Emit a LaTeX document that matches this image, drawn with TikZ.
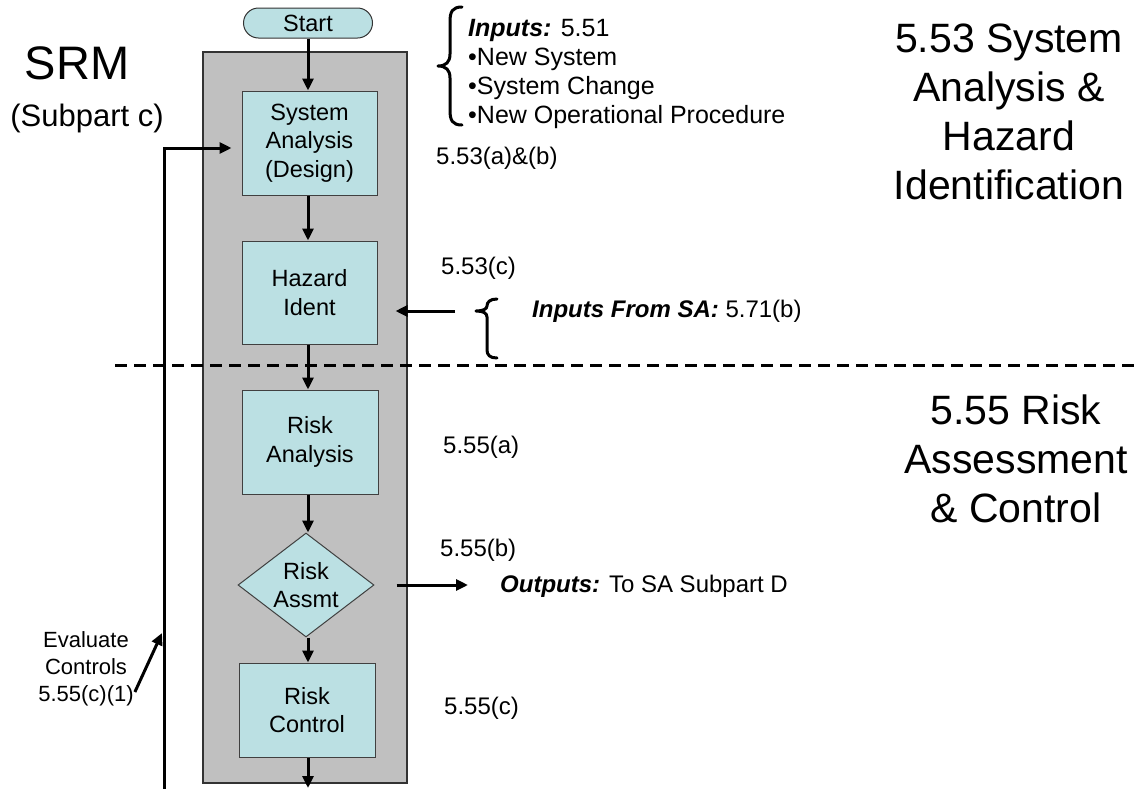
\documentclass[tikz,border=0pt]{standalone}
\usepackage{fontspec}
\setmainfont{Liberation Sans}
\usetikzlibrary{arrows.meta,shapes.geometric,calc}
\definecolor{boxfill}{RGB}{187,224,227}
\definecolor{panelgray}{RGB}{192,192,192}
\begin{document}
\begin{tikzpicture}[x=1pt,y=-1pt,
  arr/.style={line width=3pt,-{Triangle[length=12pt,width=11pt]}},
  procbox/.style={draw=black!75,line width=1pt,fill=boxfill,minimum width=135pt,minimum height=104pt,align=center,inner sep=0pt,font=\fontsize{23.5}{28.5}\selectfont},
  lbl/.style={font=\fontsize{24}{29}\selectfont,inner sep=0pt},
  bigtitle/.style={font=\fontsize{41}{49}\selectfont,inner sep=0pt,align=center},
  bracestyle/.style={line width=3pt,line cap=round,line join=round}]
\useasboundingbox (0,0) rectangle (1136,788);
\fill[white] (0,0) rectangle (1136,788);
% panel
\node[draw=black!80,line width=1.2pt,fill=panelgray,minimum width=204pt,minimum height=731pt,inner sep=0pt] (panel) at (305,417.5) {};
% start
\node[draw=black!80,line width=1pt,fill=boxfill,rounded corners=15pt,minimum width=129pt,minimum height=30pt,inner sep=0pt,font=\fontsize{23.5}{28}\selectfont] (start) at (308,23) {Start};
% process boxes
\node[procbox] (sa) at (309.5,143) {System\\Analysis\\(Design)};
\node[procbox,minimum height=103pt] (hi) at (309.5,292.5) {Hazard\\Ident};
\node[procbox,minimum width=136pt] (ra) at (310,442) {Risk\\Analysis};
\node[draw=black!75,line width=1pt,fill=boxfill,shape=diamond,aspect=1.3,minimum width=136pt,minimum height=104pt,inner sep=0pt,align=center,font=\fontsize{23.5}{28}\selectfont] (dia) at (306,585) {Risk\\Assmt};
\node[procbox,minimum width=136pt,minimum height=94pt] (rc) at (307,710) {Risk\\Control};
% dashed separator
\coordinate (dl) at (115,365);
\coordinate (dr) at (1136,365);
\draw[line width=3pt,dash pattern=on 12pt off 7pt] (dl) -- (dr);
% flow arrows
\draw[arr] (start.south) -- (start.south |- sa.north);
\draw[arr] (sa.south -| start.south) -- (start.south |- hi.north);
\draw[arr] (hi.south -| start.south) -- (start.south |- ra.north);
\draw[arr] (ra.south -| start.south) -- (start.south |- dia.north);
\draw[arr] (dia.south -| start.south) -- (start.south |- rc.north);
\coordinate (rcout) at (308,788);
\draw[arr] (rc.south -| rcout) -- (rcout);
% feedback loop
\coordinate (fbbot) at (164,790);
\draw[arr,shorten >=10pt] (fbbot) |- ($(sa.west)+(0,5)$);
% left titles
\node[font=\fontsize{47}{52}\selectfont,inner sep=0pt] (srm) at (77,63) {SRM};
\node[font=\fontsize{31}{36}\selectfont,inner sep=0pt] (sub) at (87,118) {(Subpart c)};
% evaluate controls
\node[font=\fontsize{22}{27}\selectfont,inner sep=0pt,align=center] (evl) at (86,669) {Evaluate\\Controls\\5.55(c)(1)};
\coordinate (evtip) at (162,633);
\draw[arr] ([shift={(1,23)}]evl.east) -- (evtip);
% inputs
\draw[bracestyle] (462,7) .. controls (452,7) and (450,12) .. (450,22) -- (450,54) .. controls (450,62) and (446,66) .. (438,66) .. controls (446,66) and (450,70) .. (450,78) -- (450,110) .. controls (450,120) and (452,125) .. (462,125);
\node[font=\fontsize{25}{29}\selectfont,inner sep=0pt,align=left,anchor=west] (inputs) at (468,74) {\textbf{\textit{Inputs:}} 5.51\\•New System\\•System Change\\•New Operational Procedure};
\node[lbl,anchor=west] (l1) at (436,158) {5.53(a)\&(b)};
\node[lbl,anchor=west] (l2) at (441,268) {5.53(c)};
% inputs from SA
\draw[bracestyle] (497,299) .. controls (490,299) and (487,302) .. (487,306) .. controls (487,309) and (483,311) .. (476,311) .. controls (483,311) and (487,313) .. (487,317) -- (487,350) .. controls (487,355) and (490,358) .. (497,358);
\node[lbl,anchor=west] (fromsa) at (532,311) {\textbf{\textit{Inputs From SA:}} 5.71(b)};
\coordinate (hiin) at (455,311);
\draw[arr,shorten >=18pt] (hiin) -- (hiin -| hi.east);
% lower labels
\node[lbl,anchor=west] (l3) at (443,447) {5.55(a)};
\node[lbl,anchor=west] (l4) at (440,550) {5.55(b)};
\node[lbl,anchor=west] (outs) at (500,586) {\textbf{\textit{Outputs:}} To SA Subpart D};
\draw[arr,shorten <=22pt,shorten >=32pt] (dia.east) -- (dia.east -| outs.west);
\node[lbl,anchor=west] (l5) at (444,708) {5.55(c)};
% right titles
\node[bigtitle] (t1) at (1009,112) {5.53 System\\Analysis \&\\Hazard\\Identification};
\node[bigtitle] (t2) at (1016,459) {5.55 Risk\\Assessment\\\& Control};
\end{tikzpicture}
\end{document}
